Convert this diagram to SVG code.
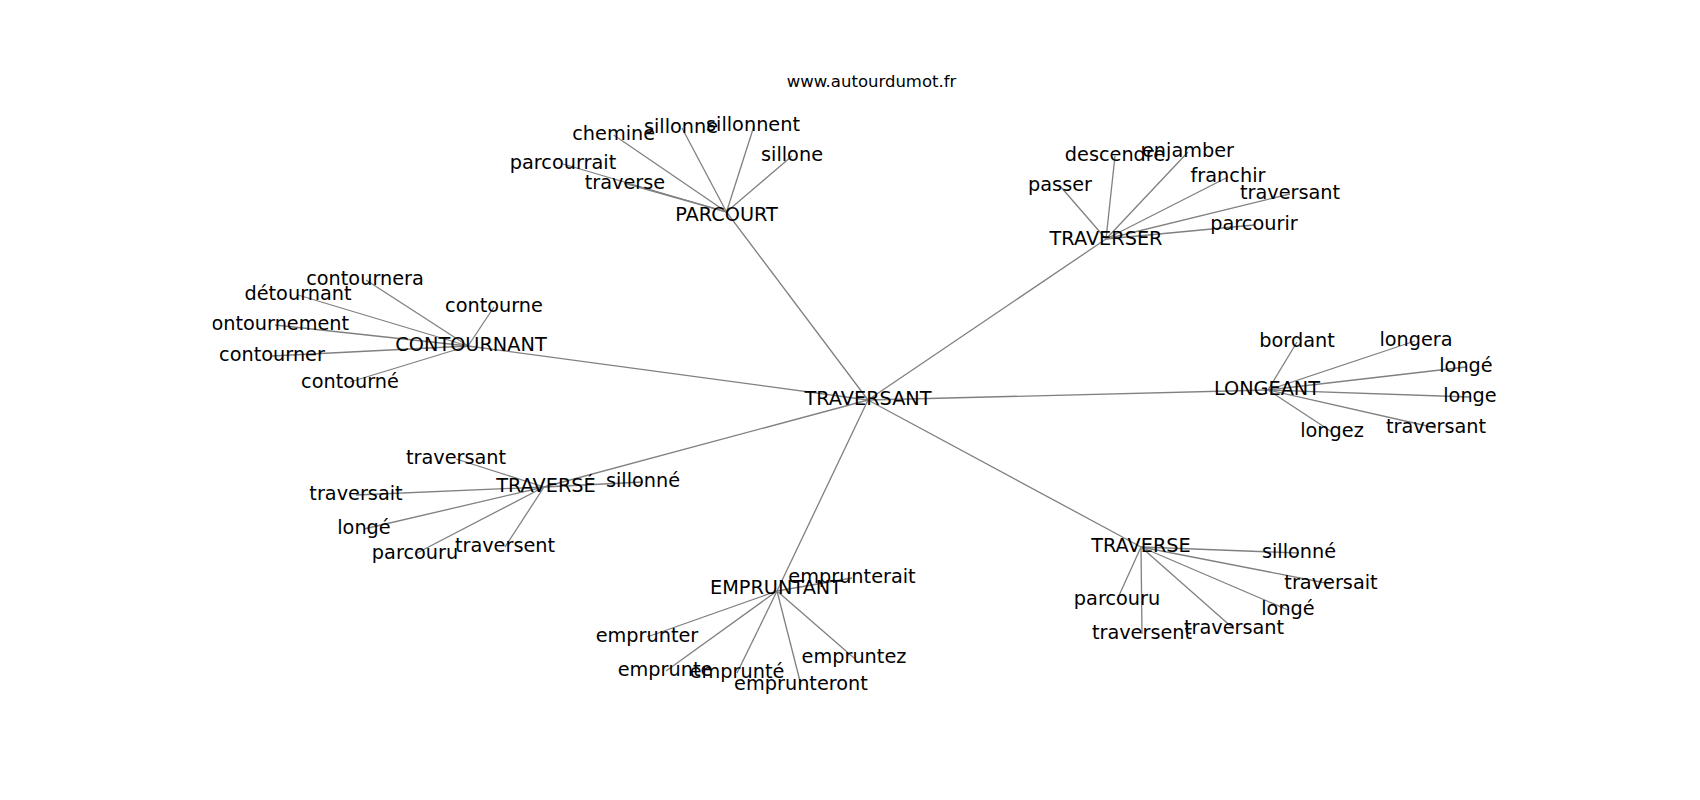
<svg xmlns="http://www.w3.org/2000/svg" width="1700" height="800" viewBox="0 0 1700 800">
<style>
.lbl{font-family:"DejaVu Sans","Liberation Sans",sans-serif;font-size:19.3px;fill:#000;text-anchor:middle}
.ttl{font-family:"DejaVu Sans","Liberation Sans",sans-serif;font-size:16.5px;fill:#000;text-anchor:middle}
.e{stroke:#808080;stroke-width:1.3;fill:none}
</style>
<defs><clipPath id="ax"><rect x="212.5" y="96" width="1317.5" height="616"/></clipPath></defs>
<rect width="1700" height="800" fill="#fff"/>
<text class="ttl" x="871.5" y="87">www.autourdumot.fr</text>
<g id="connectors" class="e">
<line x1="868" y1="400" x2="726.5" y2="212"/>
<line x1="868" y1="400" x2="1106" y2="239"/>
<line x1="868" y1="400" x2="468" y2="346"/>
<line x1="868" y1="400" x2="1268" y2="390"/>
<line x1="868" y1="400" x2="544" y2="487"/>
<line x1="868" y1="400" x2="777" y2="591"/>
<line x1="868" y1="400" x2="1141" y2="547"/>
<line x1="726.5" y1="212" x2="613.7" y2="135"/>
<line x1="726.5" y1="212" x2="682" y2="128"/>
<line x1="726.5" y1="212" x2="754" y2="126"/>
<line x1="726.5" y1="212" x2="792" y2="156"/>
<line x1="726.5" y1="212" x2="563" y2="164"/>
<line x1="726.5" y1="212" x2="624" y2="183"/>
<line x1="1106" y1="239" x2="1060" y2="186"/>
<line x1="1106" y1="239" x2="1115" y2="156"/>
<line x1="1106" y1="239" x2="1188" y2="152"/>
<line x1="1106" y1="239" x2="1228" y2="177"/>
<line x1="1106" y1="239" x2="1290" y2="194"/>
<line x1="1106" y1="239" x2="1254" y2="225"/>
<line x1="468" y1="346" x2="366" y2="280"/>
<line x1="468" y1="346" x2="298" y2="295"/>
<line x1="468" y1="346" x2="275" y2="325"/>
<line x1="468" y1="346" x2="272" y2="356"/>
<line x1="468" y1="346" x2="350" y2="382"/>
<line x1="468" y1="346" x2="494" y2="307"/>
<line x1="1268" y1="390" x2="1297" y2="342"/>
<line x1="1268" y1="390" x2="1415" y2="341"/>
<line x1="1268" y1="390" x2="1466" y2="367"/>
<line x1="1268" y1="390" x2="1470" y2="397"/>
<line x1="1268" y1="390" x2="1332" y2="432"/>
<line x1="1268" y1="390" x2="1436" y2="428"/>
<line x1="544" y1="487" x2="456" y2="459"/>
<line x1="544" y1="487" x2="356" y2="495"/>
<line x1="544" y1="487" x2="643" y2="482"/>
<line x1="544" y1="487" x2="364" y2="529"/>
<line x1="544" y1="487" x2="415" y2="554"/>
<line x1="544" y1="487" x2="505" y2="547"/>
<line x1="777" y1="591" x2="647" y2="637"/>
<line x1="777" y1="591" x2="852" y2="578"/>
<line x1="777" y1="591" x2="666" y2="671"/>
<line x1="777" y1="591" x2="737" y2="673"/>
<line x1="777" y1="591" x2="801" y2="685"/>
<line x1="777" y1="591" x2="854" y2="658"/>
<line x1="1141" y1="547" x2="1299" y2="553"/>
<line x1="1141" y1="547" x2="1331" y2="584"/>
<line x1="1141" y1="547" x2="1288" y2="610"/>
<line x1="1141" y1="547" x2="1234" y2="629"/>
<line x1="1141" y1="547" x2="1142" y2="634"/>
<line x1="1141" y1="547" x2="1117" y2="600"/>
</g>
<g clip-path="url(#ax)">
<g id="n-traversant"><text class="lbl" x="868" y="405">TRAVERSANT</text></g>
<g id="n-parcourt"><text class="lbl" x="726.5" y="221">PARCOURT</text></g>
<g id="n-parcourt-chemine"><text class="lbl" x="613.7" y="140">chemine</text></g>
<g id="n-parcourt-sillonne"><text class="lbl" x="681" y="133">sillonne</text></g>
<g id="n-parcourt-sillonnent"><text class="lbl" x="753" y="131">sillonnent</text></g>
<g id="n-parcourt-sillone"><text class="lbl" x="792" y="161">sillone</text></g>
<g id="n-parcourt-parcourrait"><text class="lbl" x="563" y="169">parcourrait</text></g>
<g id="n-parcourt-traverse"><text class="lbl" x="625" y="189">traverse</text></g>
<g id="n-traverser"><text class="lbl" x="1106" y="245">TRAVERSER</text></g>
<g id="n-traverser-passer"><text class="lbl" x="1060" y="191">passer</text></g>
<g id="n-traverser-descendre"><text class="lbl" x="1115" y="161">descendre</text></g>
<g id="n-traverser-enjamber"><text class="lbl" x="1188" y="157">enjamber</text></g>
<g id="n-traverser-franchir"><text class="lbl" x="1228" y="182">franchir</text></g>
<g id="n-traverser-traversant"><text class="lbl" x="1290" y="199">traversant</text></g>
<g id="n-traverser-parcourir"><text class="lbl" x="1254" y="230">parcourir</text></g>
<g id="n-contournant"><text class="lbl" x="471" y="351">CONTOURNANT</text></g>
<g id="n-contournant-contournera"><text class="lbl" x="365" y="285">contournera</text></g>
<g id="n-contournant-detournant"><text class="lbl" x="298" y="300">détournant</text></g>
<g id="n-contournant-contournement"><text class="lbl" x="275" y="330">contournement</text></g>
<g id="n-contournant-contourner"><text class="lbl" x="272" y="361">contourner</text></g>
<g id="n-contournant-contourne-acc"><text class="lbl" x="350" y="388">contourné</text></g>
<g id="n-contournant-contourne"><text class="lbl" x="494" y="312">contourne</text></g>
<g id="n-longeant"><text class="lbl" x="1267" y="395">LONGEANT</text></g>
<g id="n-longeant-bordant"><text class="lbl" x="1297" y="347">bordant</text></g>
<g id="n-longeant-longera"><text class="lbl" x="1416" y="346">longera</text></g>
<g id="n-longeant-longe-acc"><text class="lbl" x="1466" y="372">longé</text></g>
<g id="n-longeant-longe"><text class="lbl" x="1470" y="402">longe</text></g>
<g id="n-longeant-longez"><text class="lbl" x="1332" y="437">longez</text></g>
<g id="n-longeant-traversant"><text class="lbl" x="1436" y="433">traversant</text></g>
<g id="n-traverse-acc"><text class="lbl" x="546" y="492">TRAVERSÉ</text></g>
<g id="n-traverse-acc-traversant"><text class="lbl" x="456" y="464">traversant</text></g>
<g id="n-traverse-acc-traversait"><text class="lbl" x="356" y="500">traversait</text></g>
<g id="n-traverse-acc-sillonne"><text class="lbl" x="643" y="487">sillonné</text></g>
<g id="n-traverse-acc-longe"><text class="lbl" x="364" y="534">longé</text></g>
<g id="n-traverse-acc-parcouru"><text class="lbl" x="415" y="559">parcouru</text></g>
<g id="n-traverse-acc-traversent"><text class="lbl" x="505" y="552">traversent</text></g>
<g id="n-empruntant"><text class="lbl" x="776" y="594">EMPRUNTANT</text></g>
<g id="n-empruntant-emprunter"><text class="lbl" x="647" y="642">emprunter</text></g>
<g id="n-empruntant-emprunterait"><text class="lbl" x="852" y="583">emprunterait</text></g>
<g id="n-empruntant-emprunte"><text class="lbl" x="665" y="676">emprunte</text></g>
<g id="n-empruntant-emprunte-acc"><text class="lbl" x="737" y="678">emprunté</text></g>
<g id="n-empruntant-emprunteront"><text class="lbl" x="801" y="690">emprunteront</text></g>
<g id="n-empruntant-empruntez"><text class="lbl" x="854" y="663">empruntez</text></g>
<g id="n-traverse"><text class="lbl" x="1141" y="552">TRAVERSE</text></g>
<g id="n-traverse-sillonne"><text class="lbl" x="1299" y="558">sillonné</text></g>
<g id="n-traverse-traversait"><text class="lbl" x="1331" y="589">traversait</text></g>
<g id="n-traverse-longe"><text class="lbl" x="1288" y="615">longé</text></g>
<g id="n-traverse-traversant"><text class="lbl" x="1234" y="634">traversant</text></g>
<g id="n-traverse-traversent"><text class="lbl" x="1142" y="639">traversent</text></g>
<g id="n-traverse-parcouru"><text class="lbl" x="1117" y="605">parcouru</text></g>
</g>
</svg>
